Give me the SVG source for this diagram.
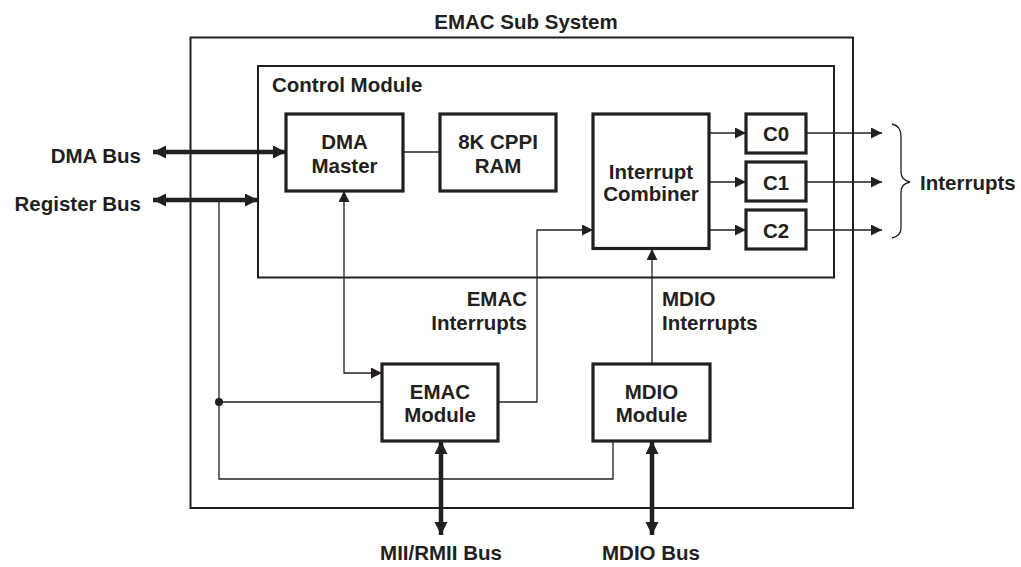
<svg xmlns="http://www.w3.org/2000/svg" width="1021" height="567" viewBox="0 0 1021 567">
<style>
text{font-family:"Liberation Sans",Arial,sans-serif;font-weight:bold;font-size:20.5px;fill:#231f20}
.c{text-anchor:middle}
.e{text-anchor:end}
.frame{fill:none;stroke:#231f20;stroke-width:2}
.box{fill:#fff;stroke:#231f20;stroke-width:3.2}
.thin{fill:none;stroke:#231f20;stroke-width:1.3}
.thick{fill:none;stroke:#231f20;stroke-width:4.5}
</style>
<defs>
<marker id="ta" markerUnits="userSpaceOnUse" markerWidth="12" markerHeight="12" refX="11" refY="5.5" orient="auto-start-reverse"><path d="M0,0 L11,5.5 L0,11 z" fill="#231f20"/></marker>
<marker id="TA" markerUnits="userSpaceOnUse" markerWidth="15" markerHeight="15" refX="13" refY="6.5" orient="auto-start-reverse"><path d="M0,0 L13,6.5 L0,13 z" fill="#231f20"/></marker>
</defs>
<rect width="1021" height="567" fill="#fff"/>
<g id="emac-sub-system">
<rect class="frame" x="190.5" y="37.5" width="662.5" height="470.5"/>
<text class="c" x="526" y="28.5">EMAC Sub System</text>
</g>
<g id="control-module">
<rect class="frame" x="258" y="66" width="576" height="211.5"/>
<text x="272" y="91.5">Control Module</text>
</g>
<g id="connectors">
<path class="thin" d="M403,152 L440,152"/>
<path class="thin" d="M344,191 L344,373 L382,373" marker-start="url(#ta)" marker-end="url(#ta)"/>
<path class="thin" d="M219,202 L219,479 L613,479 L613,441"/>
<path class="thin" d="M219,402 L382,402"/>
<circle cx="219" cy="402" r="4" fill="#231f20"/>
<path class="thin" d="M498,402 L537,402 L537,230 L593,230" marker-end="url(#ta)"/>
<path class="thin" d="M652,364 L652,249" marker-end="url(#ta)"/>
<path class="thin" d="M709,133 L746,133" marker-end="url(#ta)"/>
<path class="thin" d="M709,182 L746,182" marker-end="url(#ta)"/>
<path class="thin" d="M709,230 L746,230" marker-end="url(#ta)"/>
<path class="thin" d="M806,133 L882,133" marker-end="url(#ta)"/>
<path class="thin" d="M806,182 L882,182" marker-end="url(#ta)"/>
<path class="thin" d="M806,230 L882,230" marker-end="url(#ta)"/>
<path class="thick" d="M153,152 L286,152" marker-start="url(#TA)" marker-end="url(#TA)"/>
<path class="thick" d="M153,200 L258,200" marker-start="url(#TA)" marker-end="url(#TA)"/>
<path class="thick" d="M441,441 L441,535" marker-start="url(#TA)" marker-end="url(#TA)"/>
<path class="thick" d="M652,441 L652,535" marker-start="url(#TA)" marker-end="url(#TA)"/>
<path class="thin" d="M892,124 Q901,126 901,136 L901,172 Q901,180 910,182 Q901,184 901,192 L901,228 Q901,236 892,238"/>
</g>
<g id="dma-master">
<rect class="box" x="286" y="114" width="117" height="77"/>
<text class="c" x="344.5" y="149">DMA</text>
<text class="c" x="344.5" y="172.5">Master</text>
</g>
<g id="cppi-ram">
<rect class="box" x="440" y="114" width="116" height="77"/>
<text class="c" x="498" y="149">8K CPPI</text>
<text class="c" x="498" y="172.5">RAM</text>
</g>
<g id="interrupt-combiner">
<rect class="box" x="593" y="114" width="116" height="134.5"/>
<text class="c" x="651" y="178.5">Interrupt</text>
<text class="c" x="651" y="201">Combiner</text>
</g>
<g id="c0">
<rect class="box" x="746" y="114" width="60" height="39"/>
<text class="c" x="776" y="140.5">C0</text>
</g>
<g id="c1">
<rect class="box" x="746" y="162" width="60" height="39"/>
<text class="c" x="776" y="189.5">C1</text>
</g>
<g id="c2">
<rect class="box" x="746" y="210" width="60" height="39"/>
<text class="c" x="776" y="237.5">C2</text>
</g>
<g id="emac-module">
<rect class="box" x="382" y="364" width="116" height="77"/>
<text class="c" x="440" y="398.5">EMAC</text>
<text class="c" x="440" y="421.5">Module</text>
</g>
<g id="mdio-module">
<rect class="box" x="593" y="364" width="117" height="77"/>
<text class="c" x="651.5" y="398.5">MDIO</text>
<text class="c" x="651.5" y="421.5">Module</text>
</g>
<g id="labels">
<text class="e" x="141" y="163">DMA Bus</text>
<text class="e" x="141" y="211">Register Bus</text>
<text x="920" y="189.5">Interrupts</text>
<text class="e" x="527" y="305.5">EMAC</text>
<text class="e" x="527" y="330">Interrupts</text>
<text x="662" y="305.5">MDIO</text>
<text x="662" y="330">Interrupts</text>
<text class="c" x="441" y="560">MII/RMII Bus</text>
<text class="c" x="651" y="560">MDIO Bus</text>
</g>
</svg>
